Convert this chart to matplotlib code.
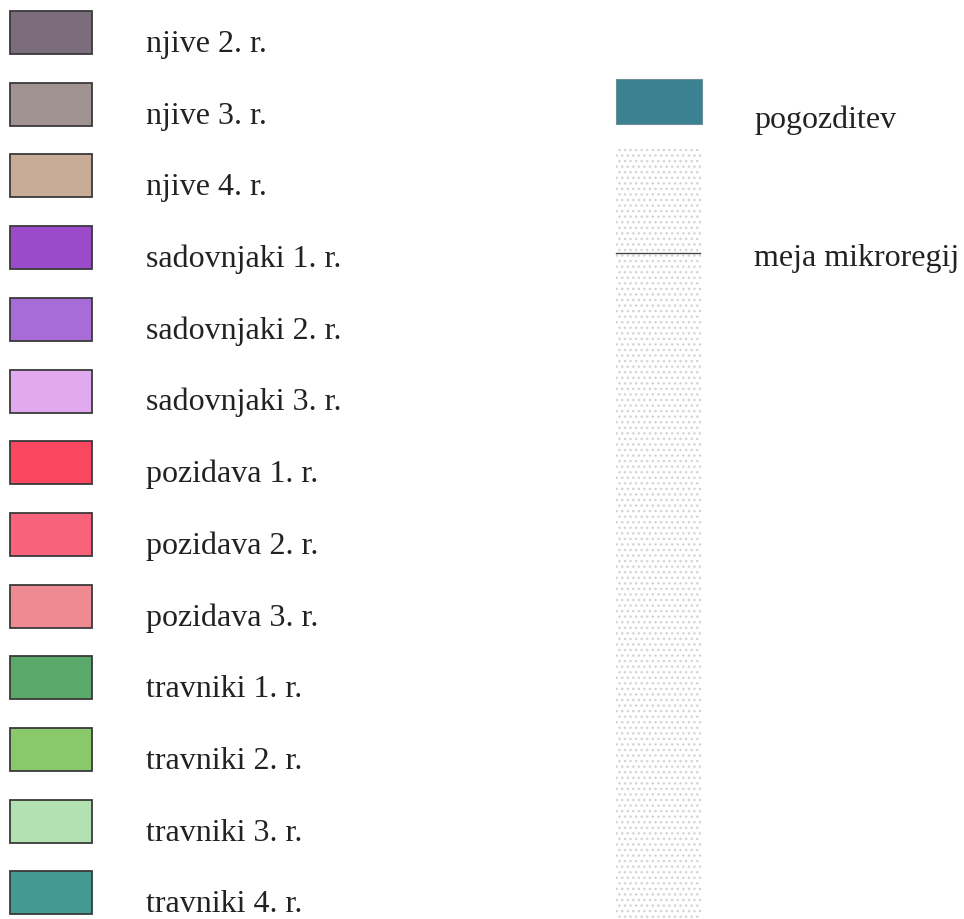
import matplotlib
import matplotlib.pyplot as plt
from matplotlib.patches import Rectangle

matplotlib.use("Agg")

# legend entries (left column)
labels = [
    "njive 2. r.", "njive 3. r.", "njive 4. r.",
    "sadovnjaki 1. r.", "sadovnjaki 2. r.", "sadovnjaki 3. r.",
    "pozidava 1. r.", "pozidava 2. r.", "pozidava 3. r.",
    "travniki 1. r.", "travniki 2. r.", "travniki 3. r.", "travniki 4. r.",
]
colors = [
    "#7b6d7c", "#a19391", "#c8ac98",
    "#9b4ac9", "#a86cd8", "#e2aaee",
    "#f94860", "#f8627a", "#f08a92",
    "#5aa86a", "#8ac86c", "#b2e2b2", "#429a92",
]

# right column
forest_label = "pogozditev"
forest_color = "#3b8191"
border_label = "meja mikroregij"

W, H = 964, 920
fig = plt.figure(figsize=(W / 100, H / 100), dpi=100)
ax = fig.add_axes([0, 0, 1, 1])
ax.set_xlim(0, W)
ax.set_ylim(H, 0)
ax.axis("off")

font = dict(family=["Liberation Serif", "DejaVu Serif"], fontsize=23,
            color="#222222", va="baseline", ha="left")

step = 71.7
for i, (lab, col) in enumerate(zip(labels, colors)):
    top = 12 + i * step
    ax.add_patch(Rectangle((10, top), 82, 43, facecolor=col,
                           edgecolor="#3a3a3a", linewidth=1.3))
    ax.text(146, top + 40, lab, **font)

# stippled strip behind the boundary line
ax.add_patch(Rectangle((616, 150), 85, 780, facecolor="white",
                       edgecolor="#d4d4d4", hatch="...", linewidth=0))
ax.add_patch(Rectangle((616, 80), 86, 45, facecolor=forest_color,
                       edgecolor="#6c8f98", linewidth=0.8))
ax.text(754, 128, forest_label, **font)

ax.plot([616, 700], [254, 254], color="#444444", linewidth=1.0)
ax.text(754, 266, border_label, **font)

fig.savefig("out.png", dpi=100)
plt.close(fig)
